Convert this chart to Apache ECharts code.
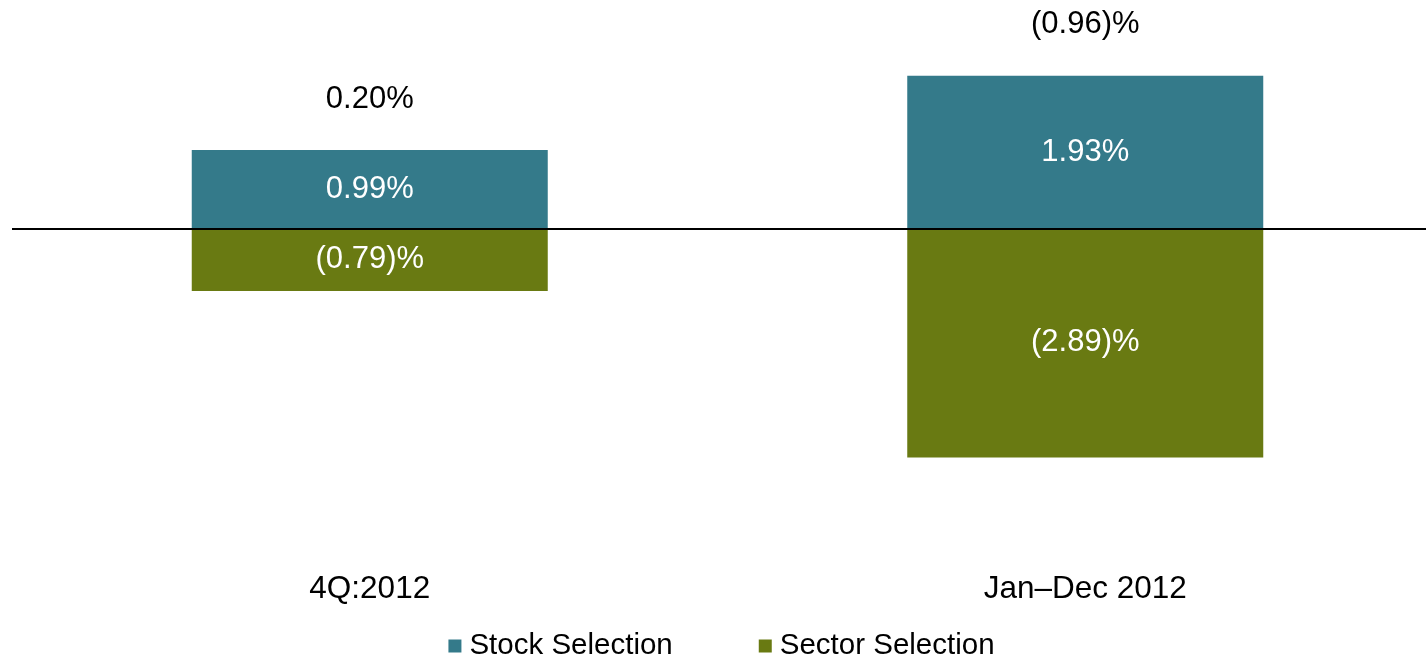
<!DOCTYPE html>
<html>
<head>
<meta charset="utf-8">
<script src="https://cdn.jsdelivr.net/npm/echarts@6/dist/echarts.min.js"></script>
<style>
html,body{margin:0;padding:0;background:#fff;overflow:hidden;}
#chart{width:1443px;height:657px;}
</style>
</head>
<body>
<div id="chart"></div>
<script>
const categories = ['4Q:2012', 'Jan\u2013Dec 2012'];
const stockSelection = [0.99, 1.93];
const sectorSelection = [-0.79, -2.89];
const totals = [0.20, -0.96];
const seriesNames = ['Stock Selection', 'Sector Selection'];

function fmt(v) {
  const s = Math.abs(v).toFixed(2);
  return v < 0 ? '(' + s + ')%' : s + '%';
}

const FONT = 'Liberation Sans, Arial, sans-serif';
const chart = echarts.init(document.getElementById('chart'));
chart.setOption({
  animation: false,
  backgroundColor: '#ffffff',
  textStyle: { fontFamily: FONT },
  grid: { left: 12, right: 0, top: 30.5, height: 475.2, containLabel: false },
  legend: {
    data: seriesNames,
    top: 626,
    left: 'center',
    icon: 'rect',
    itemWidth: 13,
    itemHeight: 13,
    itemGap: 86,
    textStyle: { fontSize: 29.5, color: '#000', fontFamily: FONT, padding: [0, 0, 0, 3] }
  },
  xAxis: {
    type: 'category',
    data: categories,
    axisLine: { show: false },
    axisTick: { show: false },
    axisLabel: { color: '#000', fontSize: 31.5, margin: 68, fontFamily: FONT }
  },
  yAxis: {
    type: 'value',
    min: -3.5,
    max: 2.5,
    show: false,
    splitLine: { show: false }
  },
  series: [
    {
      name: seriesNames[0],
      type: 'bar',
      stack: 'a',
      barWidth: 356,
      data: stockSelection,
      itemStyle: { color: '#347A8A' },
      label: { show: true, position: 'inside', color: '#fff', fontSize: 31, fontFamily: FONT,
        formatter: p => fmt(p.value) },
      markLine: {
        silent: true,
        symbol: 'none',
        label: { show: false },
        lineStyle: { color: '#000', width: 2, type: 'solid' },
        data: [{ yAxis: 0 }]
      }
    },
    {
      name: seriesNames[1],
      type: 'bar',
      stack: 'a',
      barWidth: 356,
      data: sectorSelection,
      itemStyle: { color: '#697A12' },
      label: { show: true, position: 'inside', color: '#fff', fontSize: 31, fontFamily: FONT,
        formatter: p => fmt(p.value) }
    },
    {
      name: 'Total',
      type: 'scatter',
      symbolSize: 1,
      silent: true,
      itemStyle: { color: 'rgba(0,0,0,0)', opacity: 1 },
      data: stockSelection.map((v, i) => [i, v]),
      label: { show: true, position: 'top', distance: 35, color: '#000', opacity: 1, fontSize: 31, fontFamily: FONT,
        formatter: p => fmt(totals[p.dataIndex]) }
    }
  ]
});
</script>
</body>
</html>
